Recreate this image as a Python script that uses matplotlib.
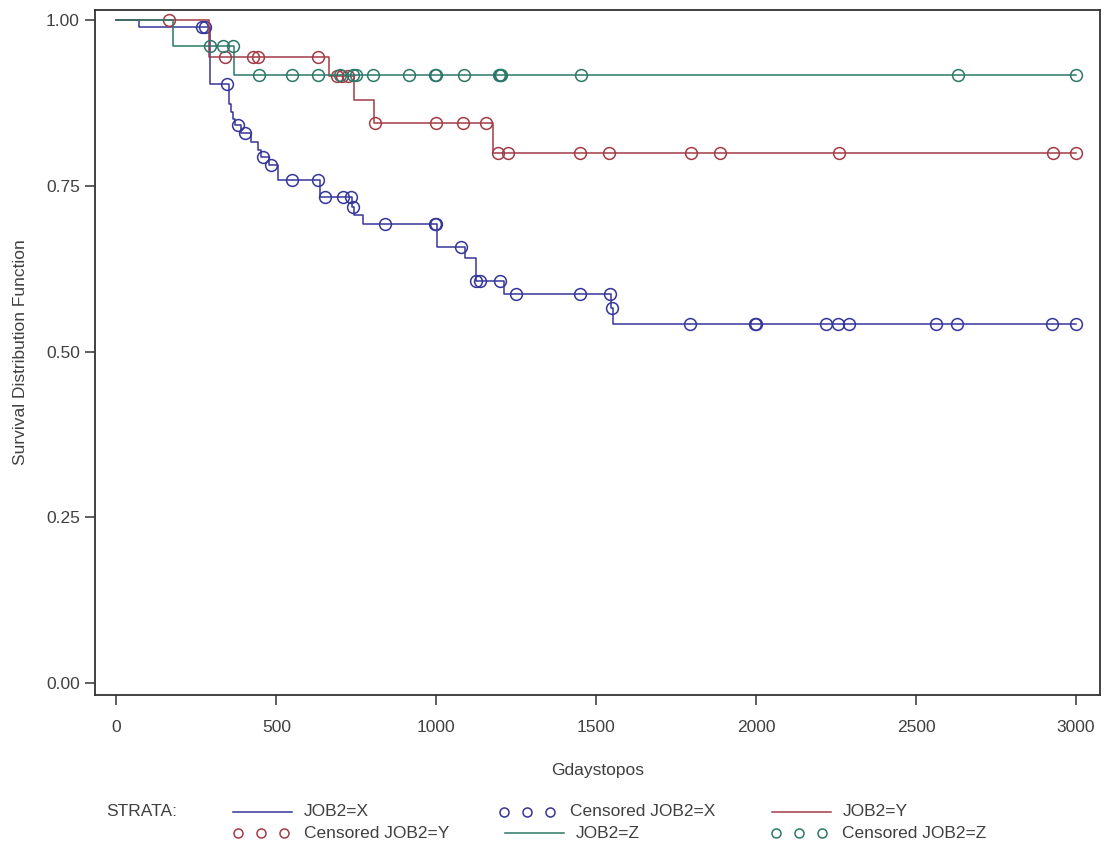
import numpy as np
import matplotlib
matplotlib.use("Agg")
import matplotlib.pyplot as plt

plt.rcParams["font.family"] = ["Liberation Sans", "DejaVu Sans"]

# Kaplan-Meier steps (time, survival after the step)
x_times = [0, 70, 292, 351, 358, 364, 372, 390, 420, 441, 452, 478, 505,
           635, 736, 744, 770, 1003, 1089, 1125, 1211, 1547, 1552, 3000]
x_surv = [1.0, 0.989, 0.904, 0.874, 0.861, 0.851, 0.841, 0.829, 0.8165,
          0.804, 0.794, 0.781, 0.759, 0.733, 0.718, 0.706, 0.693, 0.658,
          0.641, 0.606, 0.587, 0.565, 0.5415, 0.5415]
x_cens = [268, 278, 345, 380, 402, 457, 484, 550, 630, 651, 708, 734, 739,
          840, 995, 1000, 1078, 1125, 1135, 1198, 1250, 1448, 1542, 1549,
          1792, 1996, 2000, 2217, 2256, 2290, 2562, 2628, 2924, 3000]

y_times = [0, 288, 664, 742, 805, 1177, 3000]
y_surv = [1.0, 0.944, 0.916, 0.879, 0.844, 0.800, 0.800]
y_cens = [163, 338, 426, 443, 630, 690, 705, 725, 808, 1000, 1083, 1154,
          1193, 1224, 1448, 1540, 1795, 1886, 2259, 2927, 3000]

z_times = [0, 176, 369, 3000]
z_surv = [1.0, 0.96, 0.917, 0.917]
z_cens = [291, 332, 363, 447, 548, 630, 700, 740, 750, 802, 916, 995, 1000,
          1086, 1195, 1200, 1203, 1453, 2632, 3000]

x_ticks = [0, 500, 1000, 1500, 2000, 2500, 3000]
y_ticks = [0.0, 0.25, 0.50, 0.75, 1.00]

BLUE = "#35359a"
RED = "#a33b46"
GREEN = "#2b7868"
TEXT = "#404040"

groups = [
    (x_times, x_surv, x_cens, BLUE),
    (y_times, y_surv, y_cens, RED),
    (z_times, z_surv, z_cens, GREEN),
]

fig = plt.figure(figsize=(11.05, 8.5), dpi=100)
ax = fig.add_axes([0.086, 0.1824, 0.9095, 0.8058])

for times, surv, cens, color in groups:
    ax.step(times, surv, where="post", color=color, lw=1.1)
    idx = np.searchsorted(times, cens, side="right") - 1
    cy = np.array(surv)[idx]
    ax.plot(cens, cy, "o", mfc="none", mec=color, ms=8.5, mew=1.1)

ax.set_xlim(-67, 3075)
ax.set_ylim(-0.018, 1.015)
ax.set_xticks(x_ticks)
ax.set_xticklabels([str(t) for t in x_ticks])
ax.set_yticks(y_ticks)
ax.set_yticklabels(["%.2f" % t for t in y_ticks])
ax.tick_params(direction="out", length=7, width=1.1, colors="#333333",
               labelcolor=TEXT, labelsize=12.5)
ax.tick_params(axis="x", pad=11)
ax.tick_params(axis="y", pad=4)
for sp in ax.spines.values():
    sp.set_linewidth(1.3)
    sp.set_color("#333333")

ax.set_xlabel("Gdaystopos", fontsize=12.5, color=TEXT)
ax.xaxis.set_label_coords(0.5, -0.099)
ax.set_ylabel("Survival Distribution Function", fontsize=12.5, color=TEXT)
ax.yaxis.set_label_coords(-0.067, 0.5)

# legend drawn in pixel space below the plot
lax = fig.add_axes([0, 0, 1, 1])
lax.set_xlim(0, 1105)
lax.set_ylim(850, 0)
lax.axis("off")

row1, row2 = 812, 833
lax.text(106, row1, "STRATA:", fontsize=12.5, color=TEXT, va="center")

def leg_line(x0, y, color, label):
    lax.plot([x0, x0 + 59], [y, y], color=color, lw=1.1)
    lax.text(x0 + 71, y, label, fontsize=12.5, color=TEXT, va="center")

def leg_circles(x0, y, color, label):
    lax.plot([x0, x0 + 23, x0 + 46], [y, y, y], "o", mfc="none", mec=color,
             ms=6.5, mew=1.1)
    lax.text(x0 + 66, y, label, fontsize=12.5, color=TEXT, va="center")

leg_line(233, row1, BLUE, "JOB2=X")
leg_circles(504, row1, BLUE, "Censored JOB2=X")
leg_line(772, row1, RED, "JOB2=Y")
leg_circles(238, row2, RED, "Censored JOB2=Y")
leg_line(505, row2, GREEN, "JOB2=Z")
leg_circles(776, row2, GREEN, "Censored JOB2=Z")

fig.savefig("out.png", dpi=100)
